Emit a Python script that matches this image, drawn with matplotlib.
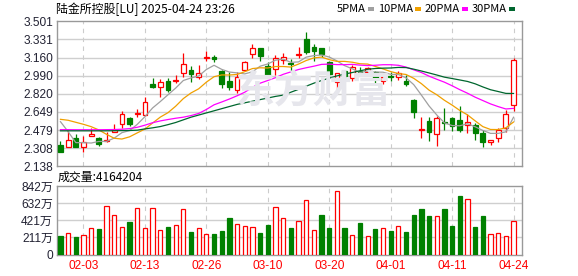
import numpy as np
import pandas as pd
from matplotlib import pyplot as plt

# daily candles, 陆金所控股 (LU), 2025-01-29 .. 2025-04-24
opens = [2.339, 2.317, 2.402, 2.317, 2.419, 2.402, 2.378, 2.458, 2.533, 2.590,
         2.630, 2.620, 2.911, 2.886, 2.940, 2.942, 3.012, 3.043, 2.980, 3.153,
         3.165, 3.033, 2.940, 2.858, 3.046, 3.190, 3.248, 3.080, 3.050, 3.140,
         3.111, 3.184, 3.334, 3.256, 3.245, 3.121, 2.933, 3.033, 2.965, 3.033,
         3.027, 3.027, 2.940, 2.984, 2.974, 2.940, 2.761, 2.480, 2.564, 2.439,
         2.558, 2.590, 2.574, 2.527, 2.527, 2.454, 2.364, 2.407, 2.501, 2.714]
highs = [2.377, 2.470, 2.438, 2.423, 2.494, 2.417, 2.458, 2.533, 2.658, 2.605,
         2.674, 2.792, 2.971, 2.958, 2.965, 2.996, 3.200, 3.083, 3.090, 3.221,
         3.184, 3.043, 3.020, 3.021, 3.127, 3.287, 3.254, 3.121, 3.184, 3.200,
         3.146, 3.256, 3.397, 3.284, 3.254, 3.127, 3.019, 3.043, 3.090, 3.074,
         3.074, 3.033, 3.012, 3.021, 3.036, 2.996, 2.771, 2.605, 2.605, 2.611,
         2.683, 2.605, 2.705, 2.633, 2.543, 2.480, 2.386, 2.496, 2.667, 3.158]
lows = [2.270, 2.317, 2.316, 2.269, 2.419, 2.330, 2.370, 2.458, 2.496, 2.517,
        2.605, 2.614, 2.877, 2.792, 2.839, 2.918, 2.980, 2.933, 2.958, 3.130,
        3.121, 2.871, 2.855, 2.830, 3.043, 3.158, 3.130, 2.971, 2.996, 3.099,
        3.027, 3.153, 3.193, 3.130, 3.161, 2.987, 2.846, 2.965, 2.942, 3.002,
        2.996, 2.924, 2.909, 2.940, 2.949, 2.896, 2.595, 2.407, 2.377, 2.330,
        2.480, 2.470, 2.464, 2.449, 2.386, 2.317, 2.339, 2.370, 2.464, 2.658]
closes = [2.270, 2.383, 2.323, 2.370, 2.440, 2.346, 2.384, 2.477, 2.627, 2.536,
          2.639, 2.745, 2.886, 2.927, 2.855, 2.952, 3.102, 3.005, 3.017, 3.162,
          3.149, 2.911, 2.880, 2.977, 3.115, 3.246, 3.174, 2.987, 3.153, 3.165,
          3.096, 3.193, 3.212, 3.224, 3.193, 3.002, 3.012, 2.989, 3.074, 3.021,
          3.065, 2.971, 2.980, 2.974, 3.012, 2.911, 2.651, 2.489, 2.464, 2.590,
          2.543, 2.520, 2.480, 2.558, 2.449, 2.370, 2.383, 2.480, 2.630, 3.134]
# volume in 万 shares
volumes = [229, 266, 217, 241, 323, 315, 597, 483, 335, 401,
           569, 323, 569, 299, 339, 364, 556, 278, 323, 249,
           254, 290, 450, 372, 348, 335, 266, 364, 581, 446,
           327, 409, 667, 299, 487, 327, 777, 327, 237, 389,
           225, 315, 323, 290, 348, 278, 487, 560, 474, 470,
           560, 352, 720, 679, 339, 474, 249, 262, 225, 416]

ma5_head = [2.558, 2.464, 2.361, 2.361]
ma10_head = [2.580, 2.571, 2.552, 2.533, 2.511, 2.480, 2.439, 2.402, 2.395]
ma20_head = [2.483, 2.483, 2.482, 2.482, 2.482, 2.482, 2.483, 2.484, 2.487, 2.493,
             2.505, 2.525, 2.548, 2.565, 2.578, 2.590, 2.600, 2.615, 2.635]
ma30_head = [2.472, 2.472, 2.472, 2.472, 2.472, 2.472, 2.472, 2.473, 2.474, 2.475,
             2.478, 2.490, 2.500, 2.512, 2.530, 2.550, 2.575, 2.600, 2.620, 2.640,
             2.660, 2.680, 2.700, 2.720, 2.735, 2.750, 2.765, 2.780, 2.795]

price_ticks = [2.138, 2.308, 2.479, 2.649, 2.820, 2.990, 3.160, 3.331, 3.501]
vol_ticks = [0, 211, 421, 632, 842]
date_ticks = ['02-03', '02-13', '02-26', '03-10', '03-20', '04-01', '04-11', '04-24']
holidays = ['2025-02-17', '2025-04-18']

title = '陆金所控股[LU] 2025-04-24 23:26'
last_volume = 4164204

RED = '#ff0000'
GREEN = '#008000'
ma_colors = {'5PMA': '#a0a0a0', '10PMA': '#f0a000', '20PMA': '#ff00ff', '30PMA': '#00662e'}


def moving_average(close, n, head):
    ma = pd.Series(close).rolling(n).mean().to_numpy()
    ma[:len(head)] = head
    return ma


def main():
    cjk = ['Noto Sans CJK SC', 'DejaVu Sans']
    num = ['Liberation Sans', 'Noto Sans CJK SC']

    days = pd.bdate_range('2025-01-29', '2025-04-24')
    days = days[~days.isin(pd.to_datetime(holidays))]
    labels = days.strftime('%m-%d')
    x = np.arange(len(days))

    o = np.array(opens)
    h = np.array(highs)
    l = np.array(lows)
    c = np.array(closes)
    v = np.array(volumes)

    up = c >= o
    vol_up = np.r_[False, c[1:] > c[:-1]]

    W, H = 578, 276
    fig = plt.figure(figsize=(W / 100, H / 100), dpi=100)
    ax = fig.add_axes([57 / W, 1 - 166.4 / H, 465 / W, 145.2 / H])
    axv = fig.add_axes([57 / W, 1 - 254.7 / H, 465 / W, 68.7 / H])

    tick_pos = [int(np.where(labels == d)[0][0]) for d in date_ticks]

    for a in (ax, axv):
        a.set_xlim(-0.45, 60.1)
        for s in a.spines.values():
            s.set_color('#999999')
            s.set_linewidth(1)
        a.tick_params(length=0, pad=3)
        a.set_xticks(tick_pos)
        for t in tick_pos:
            a.axvline(t, color='#cccccc', lw=0.8, ls=(0, (4, 4)), zorder=0)

    # watermark
    fig.text(313 / W, 1 - 92 / H, '东方财富', fontsize=28, family=cjk, weight='bold',
             color='#e6e6ec', ha='center', va='center', zorder=0)

    # price panel
    ax.set_ylim(price_ticks[0], price_ticks[-1])
    ax.set_yticks(price_ticks)
    ax.set_yticklabels(['%.3f' % t for t in price_ticks], family=num, fontsize=8.6, color='#222233')
    for t in price_ticks[1:-1]:
        ax.axhline(t, color='#cfcfcf', lw=1, zorder=0)
    ax.set_xticklabels([])

    ax.vlines(x, l, h, colors=np.where(up, RED, GREEN), lw=0.9, zorder=2)
    ax.bar(x, np.maximum(np.abs(c - o), 0.004), bottom=np.minimum(o, c), width=0.62,
           facecolor=np.where(up, 'white', GREEN), edgecolor=np.where(up, RED, GREEN),
           linewidth=0.9, zorder=3)

    ma_lines = {
        '5PMA': moving_average(c, 5, ma5_head),
        '10PMA': moving_average(c, 10, ma10_head),
        '20PMA': moving_average(c, 20, ma20_head),
        '30PMA': moving_average(c, 30, ma30_head),
    }
    for name, vals in ma_lines.items():
        ax.plot(x, vals, color=ma_colors[name], lw=0.9, zorder=4)

    # title and legend
    fig.text(56 / W, 1 - 9 / H, title, family=cjk, fontsize=8.6, color='black', va='center')
    renderer = fig.canvas.get_renderer()
    xx = 337
    for name, col in ma_colors.items():
        t = fig.text(xx / W, 1 - 9 / H, name, family=cjk, fontsize=8.0, color='black', va='center')
        right = t.get_window_extent(renderer).x1
        fig.patches.append(plt.Rectangle(((right + 2) / W, 1 - 11 / H), 6 / W, 4 / H,
                                         transform=fig.transFigure, facecolor=col, edgecolor='none'))
        xx = right + 12

    # volume panel
    axv.set_ylim(0, vol_ticks[-1])
    axv.set_yticks(vol_ticks)
    axv.set_yticklabels(['0' if t == 0 else f'{t}万' for t in vol_ticks], family=num,
                        fontsize=8.6, color='#222233')
    for t in vol_ticks[1:-1]:
        axv.axhline(t, color='#cfcfcf', lw=1, zorder=0)
    axv.bar(x, v, width=0.55, facecolor=np.where(vol_up, 'white', GREEN),
            edgecolor=np.where(vol_up, RED, GREEN), linewidth=0.9, zorder=3)
    axv.set_xticklabels(date_ticks, family=num, fontsize=8.6, color=RED)
    axv.tick_params(axis='x', pad=4)

    fig.text(58 / W, 1 - 177 / H, f'成交量:{last_volume}', family=cjk, fontsize=8.6,
             color='black', va='center')

    plt.savefig('out.png', dpi=100)


if __name__ == '__main__':
    main()
